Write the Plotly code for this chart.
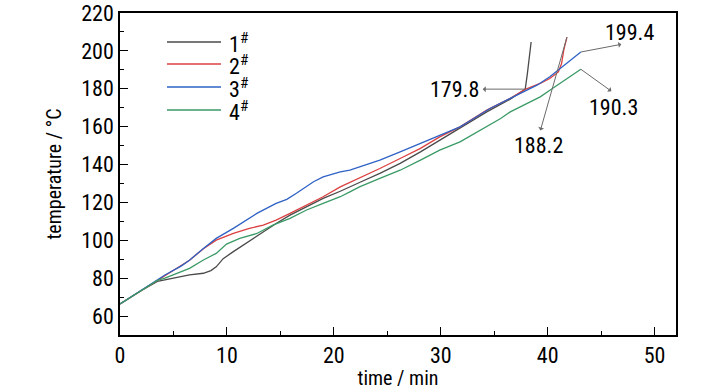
import plotly.graph_objects as go

# ---------------- data ----------------
names = ["1", "2", "3", "4"]

t1 = [0, 2, 3.5, 5.3, 6.5, 7.8, 8.5, 9.0, 9.3, 9.65, 10.6, 11.8, 13.1, 14.6, 15.9, 17.45, 19.0,
      20.6, 21.5, 22.4, 24.3, 26.2, 28.1, 29.9, 31.8, 34.3, 36.5, 37.9, 38.1, 38.3, 38.45]
T1 = [66.4, 73.5, 78.3, 80.4, 81.7, 82.6, 84.0, 86.0, 88.2, 90.3, 94.0, 98.4, 103.6, 108.9,
      113.3, 117.7, 122.1, 125.9, 128.3, 130.5, 135.3, 140.6, 146.7, 152.9, 159.0, 167.8,
      174.5, 179.8, 188.0, 197.0, 204.7]

t2 = [0, 2, 3.5, 4.2, 5.75, 6.5, 7.8, 9.0, 10.6, 12.1, 13.4, 14.6, 15.9, 17.45, 19.0, 20.6,
      21.5, 22.4, 24.3, 26.2, 28.1, 29.9, 31.8, 34.3, 36.5, 37.9, 39.3, 40.2, 41.0, 41.3,
      41.5, 41.8]
T2 = [66.4, 73.5, 79.0, 81.7, 86.9, 89.5, 95.5, 100.1, 103.7, 106.3, 108.0, 110.7, 114.2,
      118.6, 123.0, 128.2, 130.5, 132.7, 137.9, 143.2, 148.5, 154.6, 159.9, 168.7, 175.0,
      179.7, 182.8, 185.4, 188.9, 193.3, 200.3, 207.3]

t3 = [0, 2, 3.5, 4.2, 5.75, 6.5, 7.8, 9.0, 10.6, 12.8, 14.6, 15.6, 16.5, 18.1, 19.0, 20.6,
      21.5, 22.4, 24.3, 26.2, 28.1, 29.9, 31.8, 32.7, 34.6, 36.5, 37.9, 39.0, 40.2, 41.8, 43.1]
T3 = [66.4, 73.5, 79.0, 81.7, 86.5, 89.5, 95.7, 101.0, 106.3, 114.2, 119.5, 121.6, 124.8,
      130.9, 133.5, 136.1, 137.0, 138.8, 142.3, 146.7, 151.1, 155.5, 159.9, 163.0, 169.6,
      174.9, 178.9, 181.9, 186.3, 193.3, 199.4]

t4 = [0, 2, 3.5, 4.2, 5.4, 6.5, 7.8, 9.0, 9.96, 11.2, 12.8, 14.3, 15.9, 17.45, 19.0, 20.6,
      21.5, 22.4, 24.3, 26.2, 28.1, 29.9, 31.8, 33.7, 35.6, 36.5, 38.4, 39.3, 40.2, 41.8, 43.1]
T4 = [66.4, 73.5, 78.8, 80.0, 82.9, 85.2, 89.6, 93.1, 98.0, 101.0, 103.6, 108.0, 111.6,
      116.0, 119.5, 123.0, 125.6, 128.2, 132.7, 137.0, 142.3, 147.6, 152.0, 158.1, 164.3,
      167.8, 173.1, 175.7, 179.2, 185.4, 190.3]

# annotated points: (series index, point index, label)
marked = [(0, 27, "179.8"), (1, 31, "188.2"), (3, 30, "190.3"), (2, 30, "199.4")]

x_ticks = [0, 10, 20, 30, 40, 50]
y_ticks = [60, 80, 100, 120, 140, 160, 180, 200, 220]

# ---------------- style ----------------
colors = ["#4a4a4a", "#dc4040", "#2e62c4", "#3a9a66"]
FONT = "Roboto Condensed, DejaVu Sans Condensed, Liberation Sans, sans-serif"
FS = 22
FS_TITLE = 20
# arrow offsets (px) and label shifts (px) for each marked point
arrow_off = [(-44, 0), (-27, 95), (32, 23), (42, -8)]
label_shift = [(-71, 0), (-28, -108), (33, -38), (49, 20)]

xs = [t1, t2, t3, t4]
ys = [T1, T2, T3, T4]

fig = go.Figure()
for i in range(4):
    fig.add_trace(go.Scatter(x=xs[i], y=ys[i], mode="lines", name=names[i],
                             line=dict(color=colors[i], width=1.3),
                             showlegend=False))

annotations = []
for k, (si, pi, lab) in enumerate(marked):
    px, py = xs[si][pi], ys[si][pi]
    annotations.append(dict(x=px, y=py, xref="x", yref="y", text="", showarrow=True,
                            ax=arrow_off[k][0], ay=arrow_off[k][1], arrowside="start",
                            arrowhead=2, arrowsize=1.3, arrowwidth=1,
                            arrowcolor="#6a6a6a"))
    annotations.append(dict(x=px, y=py, xref="x", yref="y", text=lab, showarrow=False,
                            xshift=label_shift[k][0], yshift=label_shift[k][1],
                            font=dict(family=FONT, size=FS, color="black")))

W, H = 728, 390
ml, mr, mt, mb = 120, 52, 13, 55
pw, ph = W - ml - mr, H - mt - mb

def pxp(x):  # pixel -> paper
    return (x - ml) / pw

def pyp(y):
    return 1 - (y - mt) / ph

shapes = []
leg_rows = [42, 64, 87, 110]
for i in range(4):
    shapes.append(dict(type="line", xref="paper", yref="paper",
                       x0=pxp(167), x1=pxp(221), y0=pyp(leg_rows[i]), y1=pyp(leg_rows[i]),
                       line=dict(color=colors[i], width=1.3)))
    annotations.append(dict(x=pxp(227), y=pyp(leg_rows[i] + 1), xref="paper", yref="paper",
                            text=names[i] + "<sup>#</sup>", showarrow=False,
                            xanchor="left", yanchor="middle",
                            font=dict(family=FONT, size=FS, color="black")))

axis_common = dict(showline=True, linecolor="black", linewidth=1.5, mirror=True,
                   ticks="inside", ticklen=8, tickwidth=1.3, tickcolor="black",
                   showgrid=False, zeroline=False, automargin=False,
                   ticklabeloverflow="allow",
                   tickfont=dict(family=FONT, size=FS, color="black"))

fig.update_layout(
    width=W, height=H,
    margin=dict(l=ml, r=mr, t=mt, b=mb, pad=0),
    paper_bgcolor="white", plot_bgcolor="white",
    font=dict(family=FONT, size=FS, color="black"),
    xaxis=dict(range=[0, 52], tickvals=x_ticks,
               minor=dict(dtick=5, ticks="inside", ticklen=4, tickcolor="black"),
               title=dict(text="time / min", standoff=0,
                          font=dict(family=FONT, size=FS_TITLE)),
               **axis_common),
    yaxis=dict(range=[50, 220], tickvals=y_ticks,
               minor=dict(dtick=10, ticks="inside", ticklen=4, tickcolor="black"),
               title=dict(text="temperature / °C", standoff=14,
                          font=dict(family=FONT, size=FS_TITLE)),
               **axis_common),
    annotations=annotations,
    shapes=shapes,
)

# remove the default 8px page margin so the figure fills the window exactly
fig.write_html("out.html",
               config={"displayModeBar": False},
               post_script="document.body.style.margin='0';document.body.style.overflow='hidden';")
